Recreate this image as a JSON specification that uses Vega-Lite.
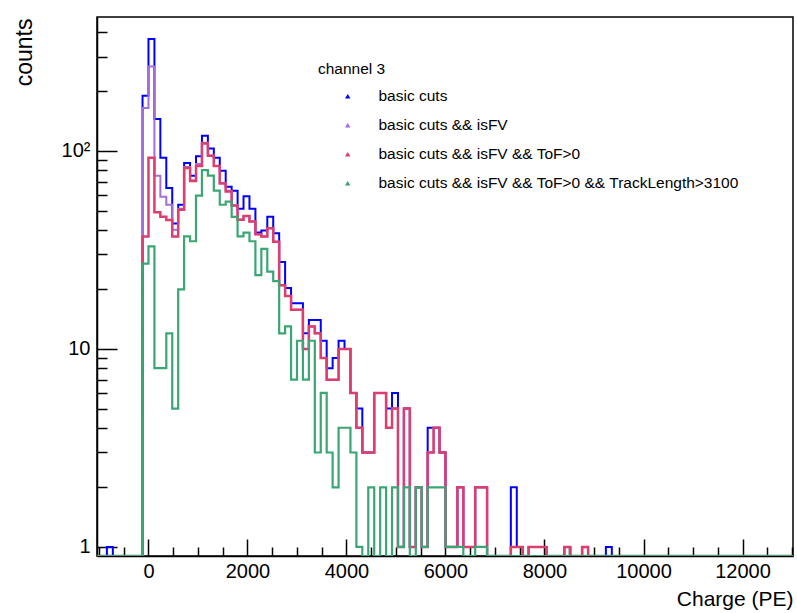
{
  "$schema": "https://vega.github.io/schema/vega-lite/v6.json",
  "width": 696,
  "height": 539,
  "autosize": {"type": "none"},
  "padding": {"left": 97, "top": 17, "right": 4, "bottom": 57},
  "background": "white",
  "config": {
    "font": "Liberation Sans",
    "view": {"stroke": "black", "strokeWidth": 1.5},
    "axis": {"grid": false, "domainColor": "black", "domainWidth": 1.5, "tickColor": "black", "tickWidth": 1.5, "labelColor": "black", "titleColor": "black", "labelFont": "Liberation Sans", "titleFont": "Liberation Sans", "titleFontWeight": "normal"}
  },
  "data": {
    "values": [
      {"x": -1040, "b": 0, "p": 0, "k": 0, "g": 0},
      {"x": -840, "b": 1, "p": 0, "k": 0, "g": 0},
      {"x": -720, "b": 0, "p": 0, "k": 0, "g": 0},
      {"x": -120, "b": 190, "p": 165, "k": 37, "g": 27},
      {"x": 0, "b": 368, "p": 267, "k": 92.5, "g": 33},
      {"x": 120, "b": 145, "p": 75, "k": 49, "g": 8},
      {"x": 240, "b": 92.5, "p": 58.7, "k": 46.5, "g": 8},
      {"x": 360, "b": 65, "p": 53.5, "k": 44.8, "g": 12},
      {"x": 480, "b": 43, "p": 40, "k": 37, "g": 5},
      {"x": 600, "b": 53.5, "p": 51, "k": 50.5, "g": 20},
      {"x": 720, "b": 87, "p": 83, "k": 82, "g": 37},
      {"x": 840, "b": 75, "p": 71, "k": 70.5, "g": 35},
      {"x": 960, "b": 94, "p": 86, "k": 84, "g": 59.5},
      {"x": 1080, "b": 119.5, "p": 110, "k": 109, "g": 80},
      {"x": 1200, "b": 103, "p": 95, "k": 94.5, "g": 75},
      {"x": 1320, "b": 92.5, "p": 84, "k": 84, "g": 63},
      {"x": 1440, "b": 79.5, "p": 69, "k": 68.5, "g": 53.5},
      {"x": 1560, "b": 66, "p": 63, "k": 62.5, "g": 55.5},
      {"x": 1680, "b": 63, "p": 53, "k": 53, "g": 46.5},
      {"x": 1800, "b": 51, "p": 45, "k": 45, "g": 37},
      {"x": 1920, "b": 59, "p": 47, "k": 47, "g": 38.7},
      {"x": 2040, "b": 51, "p": 44, "k": 44, "g": 35},
      {"x": 2160, "b": 38.7, "p": 38, "k": 38, "g": 23.6},
      {"x": 2280, "b": 39.6, "p": 37, "k": 37, "g": 32},
      {"x": 2400, "b": 46.5, "p": 40.7, "k": 40.7, "g": 24.6},
      {"x": 2520, "b": 38.4, "p": 34.8, "k": 34.8, "g": 22},
      {"x": 2640, "b": 27.5, "p": 21, "k": 21, "g": 12},
      {"x": 2760, "b": 20.3, "p": 18.5, "k": 18.5, "g": 13},
      {"x": 2880, "b": 17, "p": 15.8, "k": 15.8, "g": 7},
      {"x": 3000, "b": 17, "p": 15.8, "k": 15.8, "g": 11},
      {"x": 3120, "b": 12, "p": 10, "k": 10, "g": 7},
      {"x": 3240, "b": 14, "p": 13, "k": 13, "g": 11},
      {"x": 3360, "b": 14, "p": 12, "k": 12, "g": 3},
      {"x": 3480, "b": 11, "p": 9, "k": 9, "g": 6},
      {"x": 3600, "b": 8, "p": 7, "k": 7, "g": 3},
      {"x": 3720, "b": 9, "p": 7, "k": 7, "g": 2},
      {"x": 3840, "b": 11, "p": 10, "k": 10, "g": 4},
      {"x": 3960, "b": 10, "p": 10, "k": 10, "g": 4},
      {"x": 4080, "b": 6, "p": 6, "k": 6, "g": 3},
      {"x": 4200, "b": 5, "p": 4, "k": 4, "g": 1},
      {"x": 4320, "b": 3, "p": 3, "k": 3, "g": 0},
      {"x": 4440, "b": 3, "p": 3, "k": 3, "g": 2},
      {"x": 4560, "b": 6, "p": 6, "k": 6, "g": 0},
      {"x": 4680, "b": 6, "p": 6, "k": 6, "g": 2},
      {"x": 4800, "b": 5, "p": 4, "k": 4, "g": 0},
      {"x": 4920, "b": 6, "p": 5, "k": 5, "g": 2},
      {"x": 5040, "b": 1, "p": 1, "k": 1, "g": 1},
      {"x": 5160, "b": 5, "p": 5, "k": 5, "g": 2},
      {"x": 5280, "b": 1, "p": 1, "k": 1, "g": 0},
      {"x": 5400, "b": 2, "p": 2, "k": 2, "g": 2},
      {"x": 5520, "b": 1, "p": 1, "k": 1, "g": 1},
      {"x": 5640, "b": 4, "p": 3, "k": 3, "g": 2},
      {"x": 5760, "b": 4, "p": 4, "k": 4, "g": 2},
      {"x": 5880, "b": 3, "p": 3, "k": 3, "g": 2},
      {"x": 6000, "b": 1, "p": 1, "k": 1, "g": 1},
      {"x": 6120, "b": 1, "p": 1, "k": 1, "g": 1},
      {"x": 6240, "b": 2, "p": 2, "k": 2, "g": 1},
      {"x": 6360, "b": 1, "p": 1, "k": 1, "g": 0},
      {"x": 6480, "b": 1, "p": 1, "k": 1, "g": 0},
      {"x": 6600, "b": 2, "p": 2, "k": 2, "g": 1},
      {"x": 6720, "b": 2, "p": 2, "k": 2, "g": 1},
      {"x": 6840, "b": 0, "p": 0, "k": 0, "g": 0},
      {"x": 7320, "b": 2, "p": 1, "k": 1, "g": 0},
      {"x": 7440, "b": 1, "p": 1, "k": 1, "g": 0},
      {"x": 7560, "b": 0, "p": 0, "k": 0, "g": 0},
      {"x": 7680, "b": 1, "p": 1, "k": 1, "g": 0},
      {"x": 8040, "b": 0, "p": 0, "k": 0, "g": 0},
      {"x": 8400, "b": 1, "p": 1, "k": 1, "g": 0},
      {"x": 8520, "b": 0, "p": 0, "k": 0, "g": 0},
      {"x": 8760, "b": 1, "p": 1, "k": 1, "g": 0},
      {"x": 8880, "b": 0, "p": 0, "k": 0, "g": 0},
      {"x": 9240, "b": 1, "p": 0, "k": 0, "g": 0},
      {"x": 9360, "b": 0, "p": 0, "k": 0, "g": 0},
      {"x": 13020, "b": 0, "p": 0, "k": 0, "g": 0}
    ]
  },
  "transform": [{"fold": ["b", "p", "k", "g"], "as": ["key", "value"]}],
  "resolve": {"axis": {"x": "independent", "y": "independent"}},
  "layer": [
    {
      "encoding": {
        "x": {"field": "x", "type": "quantitative", "scale": {"domain": [-1040, 13020], "nice": false, "zero": false},
          "axis": {"orient": "bottom", "values": [0, 2000, 4000, 6000, 8000, 10000, 12000], "format": "d", "tickSize": -17, "labelFontSize": 20, "labelPadding": 22, "labelDx": -2, "title": "Charge (PE)", "titleFontSize": 21, "titleAnchor": "end", "titleAlign": "right", "titleX": 696, "titleY": 49, "titleBaseline": "alphabetic", "domain": true}},
        "y": {"field": "value", "type": "quantitative", "scale": {"type": "log", "domain": [0.9, 475], "nice": false, "clamp": true},
          "axis": {"orient": "left", "values": [1, 10, 100], "tickSize": -20, "labelFontSize": 20, "labelPadding": 27, "labelExpr": "datum.value == 100 ? '10²' : datum.value", "title": "counts", "titleFontSize": 23, "titleAngle": -90, "titleAlign": "right", "titleBaseline": "middle", "titleX": -73, "titleY": 1}}
      },
      "layer": [
        {"transform": [{"filter": "datum.key === 'b'"}], "mark": {"type": "line", "interpolate": "step-after", "strokeWidth": 2, "clip": true},
          "encoding": {"color": {"datum": "basic cuts", "type": "nominal",
            "scale": {"domain": ["basic cuts", "basic cuts && isFV", "basic cuts && isFV && ToF>0", "basic cuts && isFV && ToF>0 && TrackLength>3100"], "range": ["#0000ff", "#a46fd8", "#dc3f6e", "#3aa673"]},
            "legend": {"orient": "none", "legendX": 221, "legendY": 45, "title": "channel 3", "titleFontSize": 15.5, "titleFont": "Liberation Sans", "titleFontWeight": "normal", "titleColor": "black", "titlePadding": 11, "labelFontSize": 15.5, "labelFont": "Liberation Sans", "labelColor": "black", "labelLimit": 500, "symbolType": "triangle-up", "symbolSize": 30, "symbolStrokeWidth": 0, "symbolOffset": 22, "labelOffset": 23, "rowPadding": 12, "padding": 0,
              "encode": {"symbols": {"update": {"fill": {"scale": "color", "field": "value"}, "opacity": {"value": 1}}}}}}}},
        {"transform": [{"filter": "datum.key === 'p'"}], "mark": {"type": "line", "interpolate": "step-after", "strokeWidth": 2, "clip": true},
          "encoding": {"color": {"datum": "basic cuts && isFV", "type": "nominal"}}},
        {"transform": [{"filter": "datum.key === 'k'"}], "mark": {"type": "line", "interpolate": "step-after", "strokeWidth": 2.5, "clip": true},
          "encoding": {"color": {"datum": "basic cuts && isFV && ToF>0", "type": "nominal"}}},
        {"transform": [{"filter": "datum.key === 'g'"}], "mark": {"type": "line", "interpolate": "step-after", "strokeWidth": 2.2, "clip": true},
          "encoding": {"color": {"datum": "basic cuts && isFV && ToF>0 && TrackLength>3100", "type": "nominal"}}}
      ]
    },
    {
      "transform": [{"filter": "datum.key === 'g'"}],
      "mark": {"type": "line", "opacity": 0},
      "encoding": {
        "x": {"field": "x", "type": "quantitative", "scale": {"domain": [-1040, 13020], "nice": false, "zero": false},
          "axis": {"orient": "bottom", "values": [-1000, -500, 500, 1000, 1500, 2500, 3000, 3500, 4500, 5000, 5500, 6500, 7000, 7500, 8500, 9000, 9500, 10500, 11000, 11500, 12500, 13000], "tickSize": -9, "labels": false, "domain": false, "title": null}},
        "y": {"field": "value", "type": "quantitative", "scale": {"type": "log", "domain": [0.9, 475], "nice": false, "clamp": true},
          "axis": {"orient": "left", "values": [2, 3, 4, 5, 6, 7, 8, 9, 20, 30, 40, 50, 60, 70, 80, 90, 200, 300, 400], "tickSize": -10, "labels": false, "domain": false, "title": null}}
      }
    }
  ]
}
